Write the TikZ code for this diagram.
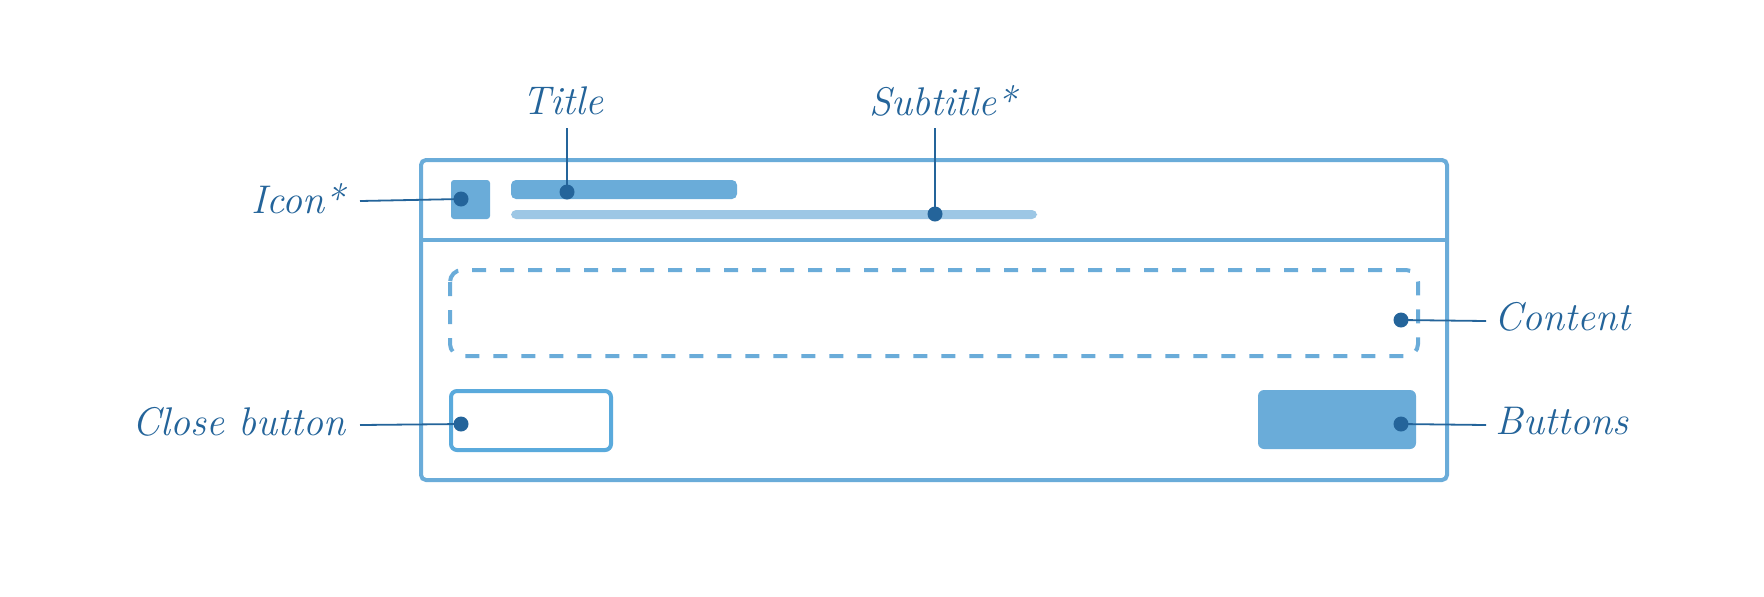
\documentclass[tikz,border=0pt]{standalone}
\usepackage{fontspec}
\definecolor{boxblue}{HTML}{6AACD9}
\definecolor{lightblue}{HTML}{9DC7E5}
\definecolor{darkblue}{HTML}{24649A}
\definecolor{btnblue}{HTML}{5AAADC}
\begin{document}
\begin{tikzpicture}[x=0.5pt,y=-0.5pt,
  frame/.style={draw=boxblue,line width=2pt},
  dot/.style={circle,fill=darkblue,inner sep=0pt,minimum size=7.5pt},
  lead/.style={draw=darkblue,line width=0.9pt},
  lbl/.style={text=darkblue,font=\itshape\fontsize{20}{23}\selectfont,inner sep=0pt}]
\useasboundingbox (0,0) rectangle (1764,596);
\fill[white] (0,0) rectangle (1764,596);
% dialog frame
\draw[frame,rounded corners=2.5pt] (421,160) rectangle (1447,480);
\draw[frame] (421,240) -- (1447,240);
% header
\fill[boxblue,rounded corners=1.5pt] (451,180) rectangle (490,219);
\fill[boxblue,rounded corners=2.5pt] (511,180) rectangle (737,199);
\fill[lightblue,rounded corners=2.5pt] (511,210) rectangle (1037,219);
% content
\draw[boxblue,line width=2pt,dash pattern=on 7pt off 7pt,rounded corners=6pt] (450,270) rectangle (1418,356);
% buttons
\draw[btnblue,line width=2pt,rounded corners=3pt] (451,391) rectangle (611,450);
\fill[boxblue,rounded corners=3pt] (1258,390) rectangle (1416,449);
% dots
\node[dot] (dIcon) at (461,199) {};
\node[dot] (dTitle) at (567,192) {};
\node[dot] (dSub) at (935,214) {};
\node[dot] (dContent) at (1401,320) {};
\node[dot] (dClose) at (461,424) {};
\node[dot] (dButtons) at (1401,424) {};
% leader ends
\coordinate (eIcon) at (360,201);
\coordinate (eTitle) at (567,128);
\coordinate (eSub) at (935,128);
\coordinate (eContent) at (1486,321);
\coordinate (eClose) at (360,425);
\coordinate (eButtons) at (1486,425);
\draw[lead] (eIcon) -- (dIcon.center);
\draw[lead] (eTitle) -- (dTitle.center);
\draw[lead] (eSub) -- (dSub.center);
\draw[lead] (eContent) -- (dContent.center);
\draw[lead] (eClose) -- (dClose.center);
\draw[lead] (eButtons) -- (dButtons.center);
% labels
\node[lbl] (lIcon) at (298,199) {Icon*};
\node[lbl] (lTitle) at (563,101) {Title};
\node[lbl] (lSub) at (943,101) {Subtitle*};
\node[lbl] (lContent) at (1562,317) {Content};
\node[lbl] (lClose) at (239,422) {Close button};
\node[lbl] (lButtons) at (1562,421) {Buttons};
\end{tikzpicture}
\end{document}
